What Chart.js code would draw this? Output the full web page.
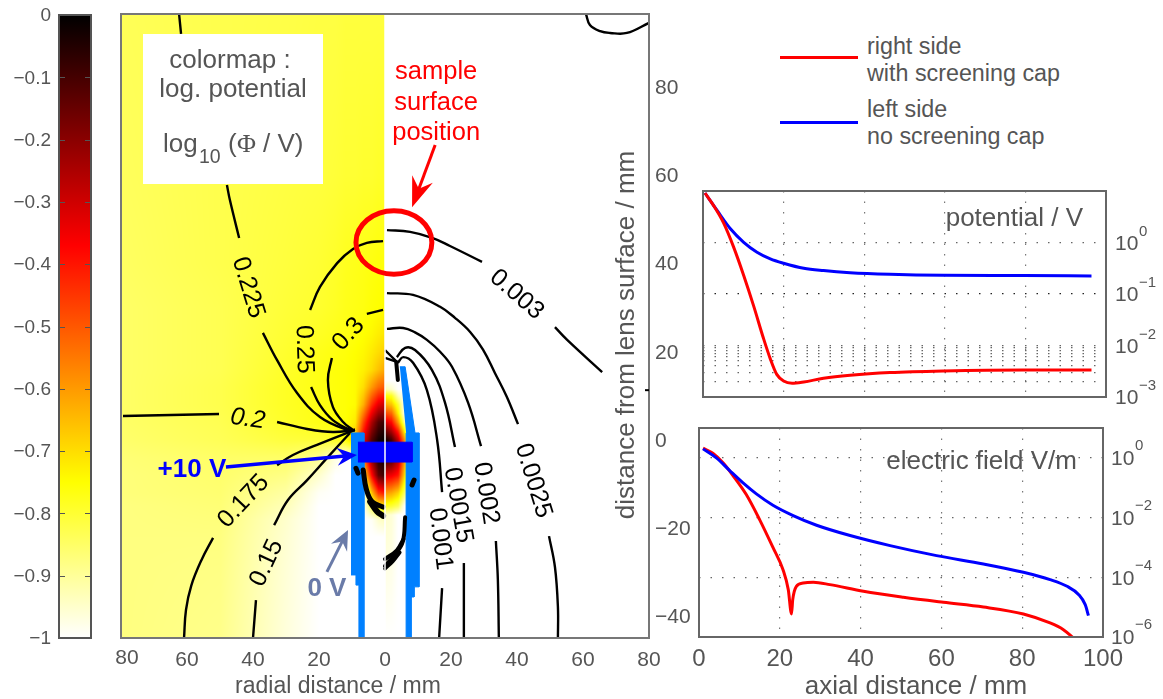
<!DOCTYPE html>
<html>
<head>
<meta charset="utf-8">
<script src="https://cdn.jsdelivr.net/npm/chart.js@4/dist/chart.umd.js"></script>
<style>
  html, body { margin: 0; padding: 0; background: #fff; overflow: hidden; }
  canvas { position: absolute; }
  .leyenda { position: absolute; color: #555; font: 23.3px "Liberation Sans", sans-serif; line-height: 26px; white-space: nowrap; }
  .raya { position: absolute; height: 3px; width: 78px; left: 780px; }
</style>
</head>
<body>
<canvas id="barra" style="left:0;top:0"></canvas>
<canvas id="mapa" style="left:100px;top:0"></canvas>
<canvas id="potencial" style="left:680px;top:170px"></canvas>
<canvas id="campo" style="left:680px;top:410px"></canvas>
<div class="raya" style="top:56px;background:#ff0000"></div>
<div class="raya" style="top:121px;background:#0000ff"></div>
<div class="leyenda" style="left:867px;top:33px">right side</div>
<div class="leyenda" style="left:867px;top:60px">with screening cap</div>
<div class="leyenda" style="left:867px;top:96px">left side</div>
<div class="leyenda" style="left:867px;top:123px">no screening cap</div>

<script>
// colormap: log10(potential) against colour
const mapValues = [-1, -0.75, -0.37, 0];
const mapColors = [[255, 255, 255], [255, 255, 0], [255, 0, 0], [0, 0, 0]];
const barTicks = [0, -0.1, -0.2, -0.3, -0.4, -0.5, -0.6, -0.7, -0.8, -0.9, -1];

const leftX = [-80, -50, -30, -20, -15, -12, -9, -6.5, -4, -2, 0];
const leftY = [97, 60, 40, 30, 24, 20, 16, 12, 8, 4, 0, -4, -8, -12, -15, -18, -22, -30, -45];
const leftField = [
  [-.835, -.825, -.82, -.815, -.815, -.81, -.81, -.81, -.81, -.81, -.81],
  [-.84, -.825, -.815, -.81, -.805, -.80, -.80, -.795, -.795, -.79, -.79],
  [-.845, -.825, -.81, -.80, -.79, -.78, -.775, -.77, -.765, -.76, -.76],
  [-.85, -.83, -.805, -.795, -.785, -.775, -.77, -.765, -.755, -.75, -.745],
  [-.85, -.83, -.80, -.785, -.775, -.77, -.76, -.75, -.74, -.725, -.715],
  [-.85, -.83, -.795, -.775, -.765, -.76, -.75, -.74, -.72, -.70, -.68],
  [-.85, -.83, -.79, -.77, -.76, -.755, -.745, -.73, -.70, -.66, -.62],
  [-.85, -.825, -.785, -.77, -.76, -.755, -.745, -.70, -.60, -.53, -.50],
  [-.85, -.825, -.785, -.77, -.76, -.755, -.745, -.63, -.44, -.33, -.29],
  [-.85, -.83, -.79, -.77, -.76, -.755, -.72, -.47, -.25, -.12, -.08],
  [-.855, -.835, -.81, -.805, -.785, -.76, -.65, -.34, -.12, -.03, 0],
  [-.865, -.85, -.85, -.89, -.97, -1, -1, -.55, -.2, -.05, -.02],
  [-.87, -.855, -.88, -.95, -1, -1, -1, -.75, -.38, -.14, -.08],
  [-.87, -.86, -.91, -.99, -1, -1, -1, -1, -.66, -.45, -.40],
  [-.875, -.865, -.93, -1, -1, -1, -1, -1, -.82, -.74, -.72],
  [-.875, -.87, -.95, -1, -1, -1, -1, -1, -.99, -.95, -.93],
  [-.875, -.875, -.955, -1, -1, -1, -1, -1, -1, -1, -1],
  [-.875, -.88, -.96, -1, -1, -1, -1, -1, -1, -1, -1],
  [-.875, -.885, -.965, -1, -1, -1, -1, -1, -1, -1, -1]
];

// same for the right half, only the small blob inside the cap
const rightX = [0, 2, 4, 6, 7.5, 80];
const rightY = [97, 13.5, 11.5, 10, 8, 6, 4, 2, 0, -4, -8, -12, -15, -17, -45];
const rightField = [
  [-1, -1, -1, -1, -1, -1],
  [-1, -1, -1, -1, -1, -1],
  [-.93, -.95, -1, -1, -1, -1],
  [-.75, -.78, -.93, -1, -1, -1],
  [-.62, -.66, -.8, -1, -1, -1],
  [-.47, -.52, -.73, -1, -1, -1],
  [-.32, -.38, -.6, -.9, -1, -1],
  [-.15, -.25, -.42, -.75, -1, -1],
  [-.02, -.1, -.28, -.6, -1, -1],
  [-.05, -.1, -.25, -.6, -1, -1],
  [-.33, -.35, -.4, -.7, -1, -1],
  [-.6, -.62, -.68, -.85, -1, -1],
  [-.78, -.8, -.84, -1, -1, -1],
  [-.95, -.96, -1, -1, -1, -1],
  [-1, -1, -1, -1, -1, -1]
];

// contour lines, [radial mm, axial mm], cut where the labels sit
const c0225a = [[-62.4, 96.6], [-61.8, 92.1]];
const c0225b = [[-47.9, 57.8], [-47, 54.4], [-44.2, 45.8]];
const c0225c = [[-37, 24.3], [-32.7, 18.1], [-26.7, 10.7], [-19.7, 5.2], [-11.5, 2.3], [-9.1, 2.27]];
const c025a = [[-0.6, 45.1], [-5.5, 44.7], [-9.7, 43.3], [-14.5, 40.1], [-19.7, 34.7], [-22.7, 29.5]];
const c025b = [[-22.4, 12], [-19.7, 7.9], [-15.8, 4.5], [-10.6, 2.3], [-9.1, 2.27]];
const c03a = [[-0.6, 29.5], [-5.5, 28.6]];
const c03b = [[-16.1, 18.6], [-17.3, 13.6], [-15.8, 7.5], [-12.7, 4.1], [-9.7, 2.27]];
const c02a = [[-79.4, 5.44], [-50.3, 5.9]];
const c02b = [[-32.7, 4.08], [-23.6, 2.5], [-15.8, 1.8], [-9.1, 2.27]];
const c0175a = [[-9.1, 2.27], [-11.5, 1.6], [-20.6, -1.1], [-27.9, -3.4], [-32.7, -5.7]];
const c0175b = [[-52.1, -22.2], [-55.6, -27.2], [-58.7, -33], [-60.3, -38.5], [-60.9, -44.9]];
const c015a = [[-10.6, 1.6], [-17.6, -4.1], [-23.6, -9.1], [-29.4, -13.6], [-33.6, -19.3]];
const c015b = [[-39.1, -36.3], [-40, -44.9]];
const c0003a = [[0.6, 47.6], [7.6, 47.2], [14.5, 45.8], [19.7, 44], [29.4, 40.4]];
const c0003b = [[51.5, 25.6], [55.2, 22.7], [65.8, 15.4]];
const c00025a = [[0.6, 33.3], [8.5, 32.9], [16.7, 30.2], [21.2, 27.7], [25.8, 24.5], [29.7, 20.5], [33.3, 15.2], [36.9, 9.8], [40.3, 3.6]];
const c00025b = [[49.7, -21.8], [51.5, -28.8], [52.4, -37.9], [52.4, -44.9]];
const c0002a = [[0.6, 25.2], [5.5, 25.4], [9.1, 24.4], [12.7, 22.7], [16.7, 20], [20.3, 16.6], [25.2, 8.4], [29.1, -1.4]];
const c0002b = [[33.6, -22.9], [34.2, -31.7], [34.5, -44.9]];
const c00015a = [[3.6, 18.8], [6.1, 20.9], [9.1, 20.4], [14.2, 15.9], [18.2, 8.4], [21.2, -1.6]];
const c00015b = [[23.9, -27.9], [23.9, -44.9]];
const c0001a = [[3.9, 17.5], [5.5, 18.8], [8.5, 17.5], [12.7, 11.3], [15.8, 0], [17.3, -11.8]];
const c0001b = [[17.3, -33.6], [16.4, -44.9]];
const cTopRight = [[60.9, 96.6], [62.1, 94.1], [65.2, 92.7], [68.2, 92.3], [73.3, 92.3], [80, 94.6]];
const cBurst1 = [[0, 20.4], [3.6, 17.7]];
const cBurst2 = [[0, 18.6], [3.6, 17.7]];
const contours = [c0225a, c0225b, c0225c, c025a, c025b, c03a, c03b, c02a, c02b, c0175a, c0175b, c015a, c015b,
  c0003a, c0003b, c00025a, c00025b, c0002a, c0002b, c00015a, c00015b, c0001a, c0001b, cTopRight, cBurst1, cBurst2];

// thick bundles of very close contours near the lens
const blobBurst = [[3.4, 17.7], [3.9, 13.6]];
const blobLeftDot = [[-8.8, -6.4], [-8.2, -7.5]];
const blobRightDot = [[8.2, -10.2], [8.8, -9.1]];
const blobLeftCurve = [[-6.6, -6.8], [-5.7, -11], [-3.9, -14], [-0.6, -15.2]];
const blobLeftCurve2 = [[-4.5, -14], [-2.4, -16.2], [-0.6, -17.2]];
const blobRightCurve = [[6.1, -17.5], [5.4, -23], [3, -26], [0, -28.6]];
const blobRightCurve2 = [[5.6, -22.5], [3.6, -25], [0, -27]];
const blobRightCurve3 = [[4.5, -25.5], [2.4, -27.5], [0, -29.2]];
const blobs = [blobBurst, blobLeftDot, blobRightDot, blobLeftCurve, blobLeftCurve2, blobRightCurve, blobRightCurve2, blobRightCurve3];
const blobWidths = [4, 5, 5, 5, 6, 4, 4, 3.5];

// electrodes
const leftCap = [[-10.3, 1.6], [-6.4, 1.6], [-6.4, -44.9], [-7.9, -44.9], [-7.9, -32.9], [-8.8, -32.9], [-8.8, -30.6], [-10.3, -30.6]];
const rightCap = [[4.5, 16.6], [6.1, 16.6], [9.1, 1.6], [10.3, 1.6], [10.3, -33.3], [8.8, -33.3], [8.8, -35.6], [7.9, -35.6], [7.9, -44.9], [6.4, -44.9], [6.4, 1.6]];
const lens = [[-8.2, -0.5], [8.2, -0.5], [8.2, -5], [-8.2, -5]];
const axisLine = [[0, -44.9], [0, 96.6]];

// contour labels: text, radial mm, axial mm, angle in degrees
const contourLabels = [
  ['0.225', -40.9, 34.7, 73], ['0.25', -23.9, 20.6, 88], ['0.3', -11.5, 24.3, -48], ['0.2', -41.5, 5.2, 8],
  ['0.175', -43.3, -13.6, -47], ['0.15', -36.4, -27.7, -65], ['0.003', 40.3, 33.3, 41], ['0.0025', 45.5, -9.1, 73],
  ['0.002', 31.2, -12, 81], ['0.0015', 22.7, -14.7, 80], ['0.001', 17.3, -22.4, 83]
];

const mapXTicks = [-80, -60, -40, -20, 0, 20, 40, 60, 80];
const mapYTicks = [80, 60, 40, 20, 0, -20, -40];

// axial profiles
const potLeftX = [0.5, 3.5, 6.8, 10.1, 13.4, 16.7, 20, 25, 29.9, 36.5, 46.4, 59.7, 79.5, 96.4];
const potRightX = [0.5, 2.6, 5.1, 7.6, 10.1, 12.6, 15, 16.7, 18.3, 20, 22.1, 25, 29.9, 36.5, 46.4, 59.7, 79.5, 96.4];
const potLeft = [9.14, 4.2, 1.85, 1.01, .648, .481, .396, .316, .285, .26, .242, .231, .228, .224];
const potRight = [9.14, 5.25, 2.4, .813, .229, .0575, .0138, .0055, .00275, .00204, .00185, .00196, .00231, .00264, .00298, .00321, .00336, .00336];

const fieldLeftX = [1, 4.3, 7.6, 10.9, 14.2, 18.3, 23.3, 29.1, 37.4, 47.3, 58.8, 70.4, 80.3, 86.9, 91.1, 94, 95.6, 96.4];
const fieldLeft = [2, 1, .376, .145, .0621, .0259, .01167, .00553, .0025, .00115, 5.32e-4, 2.8e-4, 1.47e-4, 8.36e-5, 4.99e-5, 2.62e-5, 1.21e-5, 5.19e-6];
const fieldRightX = [1, 3.5, 5.95, 8.4, 11.7, 15, 18.3, 20.8, 22.1, 22.9, 23.2, 24.1, 25.8, 28.3, 32.4, 40.7, 50.6, 60.5, 70.4, 80.3, 86.9, 90.2, 92.7];
const fieldRight = [2.11, 1.4, .68, .256, .059, .00857, 1e-3, 1.78e-4, 3.86e-5, 5.9e-6, 1.78e-5, 4.99e-5, 6.46e-5, 6.8e-5, 5.67e-5, 3.39e-5, 2.14e-5, 1.45e-5, 1.01e-5, 5.9e-6, 2.95e-6, 1.76e-6, 9.2e-7];

const potDecades = [1, 0.1, 0.01, 0.001];
const potGrid = [1, 0.1, 0.01, 0.009, 0.008, 0.007, 0.006, 0.005, 0.004, 0.003, 0.002];
const fieldDecades = [1, 1e-2, 1e-4, 1e-6];
const fieldGrid = [1, 1e-2, 1e-4];
const axialTicks = [0, 20, 40, 60, 80, 100];

const GRIS = '#555';
const FUENTE = '"Liberation Sans", Arial, sans-serif';
Chart.defaults.font.family = FUENTE;
Chart.defaults.color = GRIS;
Chart.defaults.animation = false;
Chart.defaults.responsive = false;

function setSize(id, w, h) {
  const c = document.getElementById(id);
  c.width = w; c.height = h;
  return c.getContext('2d');
}

function toXY(pairs) { return pairs.map(p => ({ x: p[0], y: p[1] })); }
function profile(xs, ys) { return xs.map((x, i) => ({ x: x, y: ys[i] })); }

// fixed axis sizes, no extra room for the end labels
function fixWidth(w) {
  return s => { s.width = w; s.paddingTop = 0; s.paddingBottom = 0; };
}
function fixHeight(h) {
  return s => { s.height = h; s.paddingLeft = 0; s.paddingRight = 0; };
}

function mapColor(v) {
  v = Math.max(-1, Math.min(0, v));
  let i = 0;
  while (i < mapValues.length - 2 && v > mapValues[i + 1]) i++;
  const t = (v - mapValues[i]) / (mapValues[i + 1] - mapValues[i]);
  return mapColors[i].map((c, k) => c + (mapColors[i + 1][k] - c) * t);
}

function bilinear(xs, ys, grid, x, y) {
  let i = 0, j = 0;
  while (i < xs.length - 2 && x > xs[i + 1]) i++;
  while (j < ys.length - 2 && y < ys[j + 1]) j++;
  const tx = (x - xs[i]) / (xs[i + 1] - xs[i]);
  const ty = (y - ys[j]) / (ys[j + 1] - ys[j]);
  const a = grid[j][i] + (grid[j][i + 1] - grid[j][i]) * tx;
  const b = grid[j + 1][i] + (grid[j + 1][i + 1] - grid[j + 1][i]) * tx;
  return a + (b - a) * ty;
}

function frame(ctx, area, color, width) {
  ctx.save();
  ctx.strokeStyle = color;
  ctx.lineWidth = width;
  ctx.strokeRect(area.left, area.top, area.right - area.left, area.bottom - area.top);
  ctx.restore();
}

// y is the centre of the digits, the middle baseline sits a bit above it
function text(ctx, str, x, y, font, color, align, angle) {
  ctx.save();
  ctx.font = font;
  ctx.fillStyle = color;
  ctx.textAlign = align || 'center';
  ctx.textBaseline = 'middle';
  ctx.translate(x, y);
  if (angle) ctx.rotate(angle * Math.PI / 180);
  ctx.fillText(str, 0, parseFloat(font.replace(/^[a-z ]*/, '')) * 0.08);
  ctx.restore();
}

// arrow between two points given in mm
function arrow(chart, from, to, color, width, len, half) {
  const ctx = chart.ctx, sx = chart.scales.x, sy = chart.scales.y;
  const x0 = sx.getPixelForValue(from[0]), y0 = sy.getPixelForValue(from[1]);
  const x1 = sx.getPixelForValue(to[0]), y1 = sy.getPixelForValue(to[1]);
  const a = Math.atan2(y1 - y0, x1 - x0);
  ctx.save();
  ctx.translate(x1, y1);
  ctx.rotate(a);
  const d = Math.hypot(x1 - x0, y1 - y0);
  ctx.strokeStyle = color;
  ctx.fillStyle = color;
  ctx.lineWidth = width;
  ctx.beginPath(); ctx.moveTo(-d, 0); ctx.lineTo(-len * 0.6, 0); ctx.stroke();
  ctx.beginPath(); ctx.moveTo(0, 0); ctx.lineTo(-len, -half); ctx.lineTo(-len * 0.65, 0); ctx.lineTo(-len, half); ctx.closePath(); ctx.fill();
  ctx.restore();
}

// colorbar
const barPlugin = {
  id: 'barPlugin',
  afterDatasetsDraw(chart) {
    const ctx = chart.ctx, a = chart.chartArea, sy = chart.scales.y;
    ctx.save();
    ctx.strokeStyle = GRIS;
    ctx.lineWidth = 1;
    barTicks.slice(1, -1).forEach(t => {
      const y = Math.round(sy.getPixelForValue(t)) + 0.5;
      ctx.beginPath();
      ctx.moveTo(a.left, y); ctx.lineTo(a.left + 6, y);
      ctx.moveTo(a.right - 6, y); ctx.lineTo(a.right, y);
      ctx.stroke();
    });
    ctx.restore();
    frame(ctx, a, GRIS, 2);
  }
};

setSize('barra', 100, 699);
new Chart('barra', {
  type: 'bar',
  data: {
    labels: [''],
    datasets: [{
      data: [[-1, 0]],
      barPercentage: 1,
      categoryPercentage: 1,
      backgroundColor: c => {
        const a = c.chart.chartArea;
        if (!a) return '#000';
        const g = c.chart.ctx.createLinearGradient(0, a.bottom, 0, a.top);
        mapValues.forEach((v, i) => g.addColorStop(v + 1, 'rgb(' + mapColors[i].join(',') + ')'));
        return g;
      }
    }]
  },
  options: {
    layout: { autoPadding: false, padding: { top: 15, right: 9, bottom: 61, left: 0 } },
    plugins: { legend: { display: false }, tooltip: { enabled: false } },
    scales: {
      x: { display: false },
      y: {
        min: -1, max: 0,
        afterFit: fixWidth(59),
        afterBuildTicks: s => { s.ticks = barTicks.map(v => ({ value: v })); },
        border: { display: false },
        grid: { display: false, drawTicks: false },
        ticks: {
          padding: 8, labelOffset: 1,
          font: { size: 19 },
          callback: v => v === 0 ? '0' : '\u2212' + String(Math.abs(v))
        }
      }
    }
  },
  plugins: [barPlugin]
});

// main map
let fieldImage = null;
const mapPlugin = {
  id: 'mapPlugin',
  beforeDatasetsDraw(chart) {
    const a = chart.chartArea, sx = chart.scales.x, sy = chart.scales.y;
    const w = Math.round(a.right - a.left), h = Math.round(a.bottom - a.top);
    if (!fieldImage) {
      fieldImage = document.createElement('canvas');
      fieldImage.width = w; fieldImage.height = h;
      const c = fieldImage.getContext('2d');
      const img = c.createImageData(w, h);
      for (let j = 0; j < h; j++) {
        const y = sy.getValueForPixel(a.top + j + 0.5);
        for (let i = 0; i < w; i++) {
          const x = sx.getValueForPixel(a.left + i + 0.5);
          const v = x <= 0 ? bilinear(leftX, leftY, leftField, x, y) : bilinear(rightX, rightY, rightField, x, y);
          const col = mapColor(v), k = (j * w + i) * 4;
          img.data[k] = col[0]; img.data[k + 1] = col[1]; img.data[k + 2] = col[2]; img.data[k + 3] = 255;
        }
      }
      c.putImageData(img, 0, 0);
    }
    chart.ctx.drawImage(fieldImage, a.left, a.top);
  },
  afterDatasetsDraw(chart) {
    const ctx = chart.ctx, a = chart.chartArea, sx = chart.scales.x, sy = chart.scales.y;
    const px = v => sx.getPixelForValue(v), py = v => sy.getPixelForValue(v);
    const off = 100; // canvas left offset on the page

    // white box with the colormap note
    ctx.fillStyle = '#fff';
    ctx.fillRect(143 - off, 34, 180, 150);
    text(ctx, 'colormap :', 230 - off, 59, '26px ' + FUENTE, GRIS);
    text(ctx, 'log. potential', 233 - off, 88, '26px ' + FUENTE, GRIS);
    text(ctx, 'log', 163 - off, 143, '26px ' + FUENTE, GRIS, 'left');
    text(ctx, '10', 199 - off, 156, '19.5px ' + FUENTE, GRIS, 'left');
    text(ctx, '(', 228 - off, 143, '26px ' + FUENTE, GRIS, 'left');
    text(ctx, '\u03A6', 237 - off, 143, '26px "Liberation Serif", serif', GRIS, 'left');
    text(ctx, '/ V)', 263 - off, 143, '26px ' + FUENTE, GRIS, 'left');

    // contour labels
    contourLabels.forEach(l => {
      text(ctx, l[0], px(l[1]), py(l[2]), (l[0] === '0.2' ? 'italic ' : '') + '25px ' + FUENTE, '#000', 'center', l[3]);
    });

    // annotations
    text(ctx, 'sample', px(15.5), py(83.9), '25.5px ' + FUENTE, '#ff0000');
    text(ctx, 'surface', px(15.5), py(77), '25.5px ' + FUENTE, '#ff0000');
    text(ctx, 'position', px(15.5), py(70), '25.5px ' + FUENTE, '#ff0000');
    arrow(chart, [15.2, 66.9], [8.2, 52.8], '#ff0000', 3, 30, 11);
    ctx.save();
    ctx.strokeStyle = '#ff0000';
    ctx.lineWidth = 5;
    ctx.beginPath();
    ctx.ellipse(px(2.7), py(44.8), px(11.5) - px(0), py(0) - py(7.2), 0, 0, Math.PI * 2);
    ctx.stroke();
    ctx.restore();

    text(ctx, '+10 V', px(-58.5), py(-6.3), 'bold 26px ' + FUENTE, '#0000ff');
    arrow(chart, [-48.2, -6.1], [-8.5, -3.4], '#0000ff', 3.5, 20, 9);
    text(ctx, '0 V', px(-17.6), py(-33.3), 'bold 26px ' + FUENTE, '#6a7ba8');
    arrow(chart, [-17.6, -29.9], [-11.2, -20.4], '#6a7ba8', 3, 20, 9);

    // axis texts
    text(ctx, 'radial distance / mm', 338 - off, 685, '23px ' + FUENTE, GRIS);
    text(ctx, 'distance from lens surface / mm', 625 - off, 335, '26px ' + FUENTE, GRIS, 'center', -90);
    text(ctx, '80', px(-80) + 6, 657, '21px ' + FUENTE, GRIS);

    frame(ctx, a, '#777', 2);
    ctx.fillStyle = '#000';
    ctx.fillRect(a.right - 4, py(11.3) - 1, 4, 2);
  }
};

const lineBase = { showLine: true, pointRadius: 0, pointHoverRadius: 0, borderColor: '#000', borderWidth: 2.4, tension: 0.4 };
const mapSets = [];
mapSets.push({ showLine: true, pointRadius: 0, data: toXY(axisLine), borderColor: '#fff', borderWidth: 1.5 });
contours.forEach(c => mapSets.push(Object.assign({}, lineBase, { data: toXY(c) })));
blobs.forEach((c, i) => mapSets.push(Object.assign({}, lineBase, { data: toXY(c), borderWidth: blobWidths[i], borderCapStyle: 'round' })));
mapSets.push({ showLine: true, pointRadius: 0, data: toXY(lens), borderColor: '#0000ff', borderWidth: 1, backgroundColor: '#0000ff', fill: 'shape' });
mapSets.push({ showLine: true, pointRadius: 0, data: toXY(leftCap), borderColor: '#0080ff', borderWidth: 1, backgroundColor: '#0080ff', fill: 'shape' });
mapSets.push({ showLine: true, pointRadius: 0, data: toXY(rightCap), borderColor: '#0080ff', borderWidth: 1, backgroundColor: '#0080ff', fill: 'shape' });

setSize('mapa', 610, 699);
new Chart('mapa', {
  type: 'scatter',
  data: { datasets: mapSets },
  options: {
    layout: { autoPadding: false, padding: { left: 21, top: 14, right: 0, bottom: 0 } },
    plugins: { legend: { display: false }, tooltip: { enabled: false } },
    scales: {
      x: {
        type: 'linear', min: -80, max: 80,
        afterFit: fixHeight(61),
        afterBuildTicks: s => { s.ticks = mapXTicks.map(v => ({ value: v })); },
        border: { display: false },
        grid: { display: false, drawTicks: false },
        ticks: {
          padding: 10, maxRotation: 0, autoSkip: false,
          font: { size: 21 },
          callback: v => v === -80 ? '' : String(Math.abs(v))
        }
      },
      y: {
        type: 'linear', position: 'right', min: -44.9, max: 96.6,
        afterFit: fixWidth(61),
        afterBuildTicks: s => { s.ticks = mapYTicks.map(v => ({ value: v })); },
        border: { display: false },
        grid: { display: false, drawTicks: false },
        ticks: {
          padding: 6, labelOffset: 1, autoSkip: false,
          font: { size: 21 },
          callback: v => v < 0 ? '\u2212' + Math.abs(v) : String(v)
        }
      }
    }
  },
  plugins: [mapPlugin]
});

// log tick labels with superscript exponents, 10 and exponent as separate strings
function decadeLabels(chart, decades, left, supDy) {
  const ctx = chart.ctx, sy = chart.scales.y;
  decades.forEach(d => {
    const y = sy.getPixelForValue(d);
    const e = Math.round(Math.log10(d));
    text(ctx, '10', left, y, '21px ' + FUENTE, GRIS, 'left');
    text(ctx, e < 0 ? '\u2212' + Math.abs(e) : String(e), left + 24, y - supDy, '15px ' + FUENTE, GRIS, 'left');
  });
}

const potPlugin = {
  id: 'potPlugin',
  afterDatasetsDraw(chart) {
    frame(chart.ctx, chart.chartArea, '#666', 2);
    decadeLabels(chart, potDecades, 1115 - 680, 12);
    text(chart.ctx, 'potential / V', 1083 - 680, 217 - 170, '26px ' + FUENTE, GRIS, 'right');
  }
};

const fieldPlugin = {
  id: 'fieldPlugin',
  afterDatasetsDraw(chart) {
    frame(chart.ctx, chart.chartArea, '#666', 2);
    decadeLabels(chart, fieldDecades, 1111 - 680, 13);
    text(chart.ctx, 'electric field V/m', 1077 - 680, 460 - 410, '26px ' + FUENTE, GRIS, 'right');
    text(chart.ctx, 'axial distance / mm', 916 - 680, 685 - 410, '26px ' + FUENTE, GRIS);
  }
};

function profileSet(points, color) {
  return { showLine: true, data: points, pointRadius: 0, borderColor: color, borderWidth: 3, cubicInterpolationMode: 'monotone' };
}

function profileOptions(pad, rightW, bottomH, yMin, yGrid, showX) {
  return {
    layout: { autoPadding: false, padding: pad },
    plugins: { legend: { display: false }, tooltip: { enabled: false } },
    scales: {
      x: {
        type: 'linear', min: 0, max: 100,
        afterFit: fixHeight(bottomH),
        afterBuildTicks: s => { s.ticks = axialTicks.map(v => ({ value: v })); },
        border: { display: false, dash: [1.5, 9] },
        grid: { color: c => (c.tick.value === 0 || c.tick.value === 100) ? 'transparent' : '#777', lineWidth: 1.2, drawTicks: false },
        ticks: { display: showX, padding: 8, font: { size: 24 }, maxRotation: 0 }
      },
      y: {
        type: 'logarithmic', position: 'right', min: yMin, max: 10,
        afterFit: fixWidth(rightW),
        afterBuildTicks: s => { s.ticks = yGrid.map(v => ({ value: v })); },
        border: { display: false, dash: [1.5, 10] },
        grid: { color: c => c.tick.value === 0.1 ? '#222' : '#666', lineWidth: 1.2, drawTicks: false },
        ticks: { display: false }
      }
    }
  };
}

setSize('potencial', 483, 240);
new Chart('potencial', {
  type: 'scatter',
  data: { datasets: [profileSet(profile(potRightX, potRight), '#ff0000'), profileSet(profile(potLeftX, potLeft), '#0000ff')] },
  options: profileOptions({ left: 23, top: 21, right: 0, bottom: 0 }, 57, 13, 0.001, potGrid, false),
  plugins: [potPlugin]
});

setSize('campo', 483, 289);
new Chart('campo', {
  type: 'scatter',
  data: { datasets: [profileSet(profile(fieldLeftX, fieldLeft), '#0000ff'), profileSet(profile(fieldRightX, fieldRight), '#ff0000')] },
  options: profileOptions({ left: 19, top: 18, right: 0, bottom: 0 }, 60, 62, 1e-6, fieldGrid, true),
  plugins: [fieldPlugin]
});
</script>
</body>
</html>
